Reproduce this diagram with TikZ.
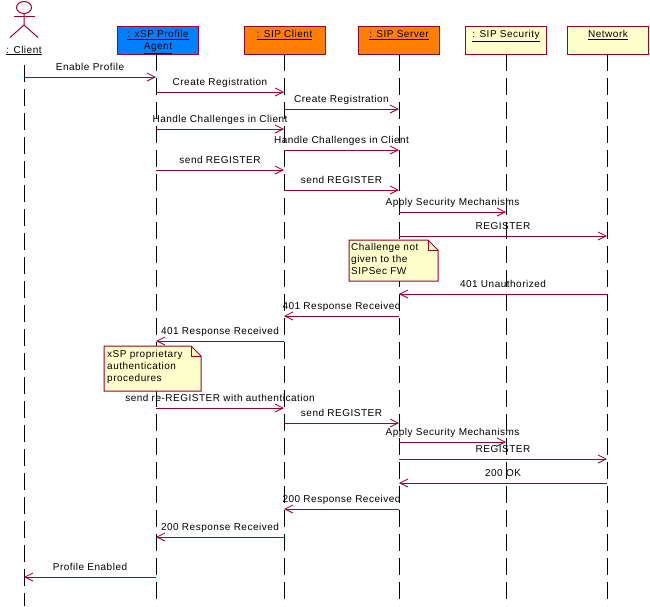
\documentclass[tikz,border=0pt]{standalone}
\usepackage{xcolor}
\usepackage{tikz}
\usepackage{fontspec}
\usetikzlibrary{arrows.meta}
\setmainfont[LetterSpace=5]{Liberation Sans}
\definecolor{line-color}{RGB}{153, 0, 51}
\definecolor{xsp-color}{RGB}{0, 128, 255}
\definecolor{sip-color}{RGB}{255, 128, 0}
\definecolor{note-color}{RGB}{255, 255, 204}
\tikzset{
  headbox/.style={rectangle, draw=line-color, line width=1pt, minimum width=81pt, minimum height=28pt, inner sep=0pt},
  headtext/.style={anchor=north, yshift=-5pt, inner sep=0pt, align=center, font=\fontsize{10}{12}\selectfont},
  lifeline/.style={line width=1pt, dash pattern=on 17pt off 7pt},
  msg/.style={line-color, line width=1pt, -{Straight Barb[length=8pt,width=8pt,line width=0.8pt]}},
  msgtext/.style={midway, above=4pt, inner sep=0pt, text=black, text height=7pt, text depth=2pt, font=\fontsize{10}{12}\selectfont},
  notebox/.style={draw=line-color, fill=note-color, line width=1pt, line join=miter},
  notetext/.style={anchor=north west, inner sep=0pt, align=left, font=\fontsize{10}{12.2}\selectfont}
}
\begin{document}
\begin{tikzpicture}[x=1pt, y=-1pt]
\useasboundingbox (0,0) rectangle (650,606);

% lifeline ends
\coordinate (clienttop) at (24,65);
\coordinate (clientend) at (24,606);
\coordinate (xsptop) at (156,54);
\coordinate (xspend) at (156,606);
\coordinate (sipclienttop) at (284,54);
\coordinate (sipclientend) at (284,606);
\coordinate (servertop) at (399,54);
\coordinate (serverend) at (399,606);
\coordinate (securitytop) at (506,54);
\coordinate (securityend) at (506,606);
\coordinate (networktop) at (607,54);
\coordinate (networkend) at (607,606);

\draw[lifeline] (clienttop) -- (clientend);
\draw[lifeline] (xsptop) -- (xspend);
\draw[lifeline] (sipclienttop) -- (sipclientend);
\draw[lifeline] (servertop) -- (serverend);
\draw[lifeline] (securitytop) -- (securityend);
\draw[lifeline] (networktop) -- (networkend);

% actor
\draw[line-color, line width=1pt] (24,7.5) ellipse (7.5 and 6);
\draw[line-color, line width=1pt] (14,16) -- (35,16);
\draw[line-color, line width=1pt] (24,13.5) -- (24,25) -- (10,37.5);
\draw[line-color, line width=1pt] (24,25) -- (38,37.5);
\node (client) [inner sep=0pt, font=\fontsize{10}{12}\selectfont] at (24,50.5) {\underline{: Client}};

% objects
\node (xsp) [headbox, fill=xsp-color, label={[headtext]north:{\underline{: xSP Profile}\\\underline{Agent}}}] at (158,40) {};
\node (sipclient) [headbox, fill=sip-color, label={[headtext]north:\underline{: SIP Client}}] at (284.5,40) {};
\node (server) [headbox, fill=sip-color, label={[headtext]north:\underline{: SIP Server}}] at (399,40) {};
\node (security) [headbox, fill=note-color, label={[headtext]north:\underline{: SIP Security}}] at (506,40) {};
\node (network) [headbox, fill=note-color, label={[headtext]north:\underline{Network}}] at (608,40) {};

% messages
\draw[msg] (clienttop |- 0,77) -- (xsptop |- 0,77) node[msgtext] {Enable Profile};
\draw[msg] (xsptop |- 0,92) -- (sipclienttop |- 0,92) node[msgtext] {Create Registration};
\draw[msg] (sipclienttop |- 0,109) -- (servertop |- 0,109) node[msgtext] {Create Registration};
\draw[msg] (xsptop |- 0,129) -- (sipclienttop |- 0,129) node[msgtext] {Handle Challenges in Client};
\draw[msg] (sipclienttop |- 0,150) -- (servertop |- 0,150) node[msgtext] {Handle Challenges in Client};
\draw[msg] (xsptop |- 0,170) -- (sipclienttop |- 0,170) node[msgtext] {send REGISTER};
\draw[msg] (sipclienttop |- 0,190) -- (servertop |- 0,190) node[msgtext] {send REGISTER};
\draw[msg] (servertop |- 0,212) -- (securitytop |- 0,212) node[msgtext] {Apply Security Mechanisms};
\draw[msg] (servertop |- 0,236) -- (networktop |- 0,236) node[msgtext] {REGISTER};
\draw[msg] (networktop |- 0,294) -- (servertop |- 0,294) node[msgtext] {401 Unauthorized};
\draw[msg] (servertop |- 0,316) -- (sipclienttop |- 0,316) node[msgtext] {401 Response Received};
\draw[msg] (sipclienttop |- 0,341) -- (xsptop |- 0,341) node[msgtext] {401 Response Received};
\draw[msg] (xsptop |- 0,408) -- (sipclienttop |- 0,408) node[msgtext] {send re-REGISTER with authentication};
\draw[msg] (sipclienttop |- 0,423) -- (servertop |- 0,423) node[msgtext] {send REGISTER};
\draw[msg] (servertop |- 0,442) -- (securitytop |- 0,442) node[msgtext] {Apply Security Mechanisms};
\draw[msg] (servertop |- 0,459) -- (networktop |- 0,459) node[msgtext] {REGISTER};
\draw[msg] (networktop |- 0,483) -- (servertop |- 0,483) node[msgtext] {200 OK};
\draw[msg] (servertop |- 0,509) -- (sipclienttop |- 0,509) node[msgtext] {200 Response Received};
\draw[msg] (sipclienttop |- 0,537) -- (xsptop |- 0,537) node[msgtext] {200 Response Received};
\draw[msg] (xsptop |- 0,577) -- (clienttop |- 0,577) node[msgtext] {Profile Enabled};

% notes
\draw[notebox] (349,240) -- (428,240) -- (438,250) -- (438,281) -- (349,281) -- cycle;
\draw[line-color, line width=1pt] (428,240) -- (428,250) -- (438,250);
\node (challenge) [notetext] at (351,243) {Challenge not\\given to the\\SIPSec FW};
\draw[notebox] (104,346) -- (191,346) -- (201,356) -- (201,391) -- (104,391) -- cycle;
\draw[line-color, line width=1pt] (191,346) -- (191,356) -- (201,356);
\node (proprietary) [notetext] at (107,350) {xSP proprietary\\authentication\\procedures};
\end{tikzpicture}
\end{document}
